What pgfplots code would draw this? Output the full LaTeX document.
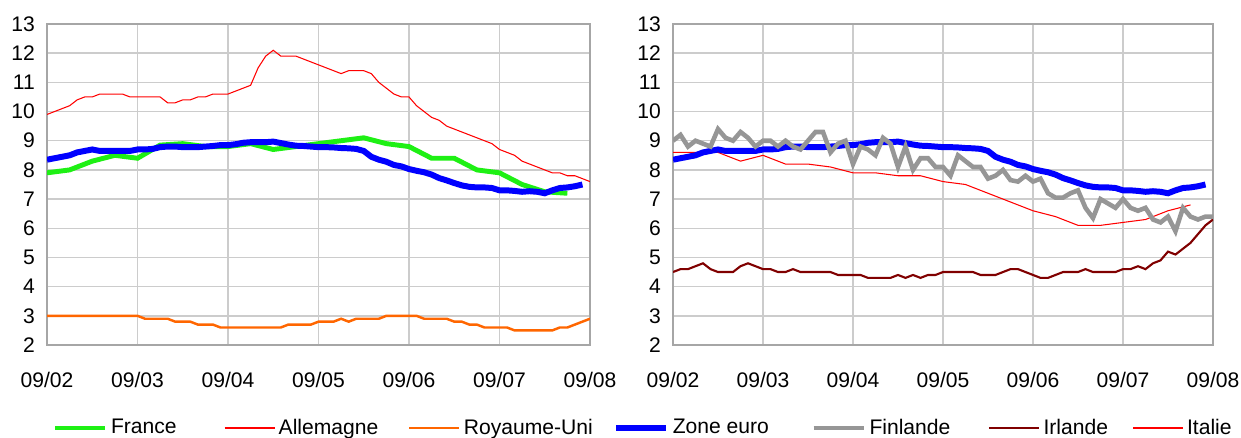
\documentclass[border=0pt]{standalone}
\usepackage{fontspec}
\setmainfont{Liberation Sans}
\usepackage{pgfplots}
\usepackage{pgfplotstable}
\pgfplotsset{compat=1.18}

\definecolor{frgreen}{RGB}{30,240,20}
\definecolor{ukorange}{RGB}{255,102,0}
\definecolor{eublue}{RGB}{0,0,255}
\definecolor{figray}{RGB}{150,150,150}
\definecolor{iedark}{RGB}{128,0,0}
\definecolor{thinred}{RGB}{255,0,0}

% zone euro, monthly, month 0 = 09/02
\pgfplotstableread{
m v
0 8.35
1 8.40
2 8.45
3 8.50
4 8.60
5 8.65
6 8.70
7 8.65
8 8.65
9 8.65
10 8.65
11 8.65
12 8.70
13 8.70
14 8.72
15 8.78
16 8.80
17 8.80
18 8.78
19 8.78
20 8.78
21 8.80
22 8.82
23 8.85
24 8.85
25 8.88
26 8.93
27 8.95
28 8.95
29 8.95
30 8.97
31 8.92
32 8.87
33 8.83
34 8.82
35 8.80
36 8.78
37 8.78
38 8.77
39 8.75
40 8.74
41 8.72
42 8.65
43 8.45
44 8.35
45 8.28
46 8.17
47 8.12
48 8.03
49 7.97
50 7.92
51 7.84
52 7.72
53 7.64
54 7.55
55 7.47
56 7.42
57 7.40
58 7.40
59 7.38
60 7.30
61 7.30
62 7.28
63 7.25
64 7.27
65 7.25
66 7.20
67 7.30
68 7.38
69 7.40
70 7.44
71 7.50
}\zoneeuro

\pgfplotsset{
  panel/.style={
    scale only axis,
    height=6.42cm,
    xmin=0, xmax=72, ymin=2, ymax=13,
    xtick={0,12,...,72},
    xticklabels={09/02,09/03,09/04,09/05,09/06,09/07,09/08},
    ytick={2,...,13},
    grid=major,
    major grid style={draw=black!20, line width=0.8pt},
    axis line style={draw=black!35, line width=1.3pt},
    major tick length=0pt,
    tick label style={font=\fontsize{12}{14}\selectfont},
    /pgf/number format/assume math mode=true,
    xticklabel style={yshift=-0.42cm},
    yticklabel style={xshift=-0.12cm},
    legend image code/.code={\draw[##1] (0cm,0cm) -- (1cm,0cm);},
  },
}

\begin{document}
\begin{tikzpicture}
\useasboundingbox (0,0) rectangle (24.82,8.74);

\begin{axis}[panel, width=10.86cm, at={(0.94cm,1.84cm)}, anchor=south west]
% Allemagne
\addplot[thinred, line width=0.6pt] coordinates {
(0,9.9)(1,10.0)(2,10.1)(3,10.2)(4,10.4)(5,10.5)(6,10.5)(7,10.6)(8,10.6)(9,10.6)(10,10.6)
(11,10.5)(12,10.5)(13,10.5)(14,10.5)(15,10.5)(16,10.3)(17,10.3)(18,10.4)(19,10.4)(20,10.5)
(21,10.5)(22,10.6)(23,10.6)(24,10.6)(25,10.7)(26,10.8)(27,10.9)(28,11.5)(29,11.9)(30,12.1)
(31,11.9)(32,11.9)(33,11.9)(34,11.8)(35,11.7)(36,11.6)(37,11.5)(38,11.4)(39,11.3)(40,11.4)
(41,11.4)(42,11.4)(43,11.3)(44,11.0)(45,10.8)(46,10.6)(47,10.5)(48,10.5)(49,10.2)(50,10.0)
(51,9.8)(52,9.7)(53,9.5)(54,9.4)(55,9.3)(56,9.2)(57,9.1)(58,9.0)(59,8.9)(60,8.7)
(61,8.6)(62,8.5)(63,8.3)(64,8.2)(65,8.1)(66,8.0)(67,7.9)(68,7.9)(69,7.8)(70,7.8)
(71,7.7)(72,7.6)};
% France
\addplot[frgreen, line width=2.8pt] coordinates {
(0,7.9)(3,8.0)(6,8.3)(9,8.5)(12,8.4)(15,8.85)(18,8.9)(21,8.8)(24,8.8)(27,8.9)
(30,8.7)(33,8.8)(36,8.9)(39,9.0)(42,9.1)(45,8.9)(48,8.8)(51,8.4)(54,8.4)(57,8.0)
(60,7.9)(63,7.5)(66,7.25)(69,7.2)};
% Royaume-Uni
\addplot[ukorange, line width=1.4pt] coordinates {
(0,3.0)(12,3.0)(13,2.9)(16,2.9)(17,2.8)(19,2.8)(20,2.7)(22,2.7)(23,2.6)(31,2.6)
(32,2.7)(35,2.7)(36,2.8)(38,2.8)(39,2.9)(40,2.8)(41,2.9)(44,2.9)(45,3.0)(49,3.0)
(50,2.9)(53,2.9)(54,2.8)(55,2.8)(56,2.7)(57,2.7)(58,2.6)(61,2.6)(62,2.5)(67,2.5)
(68,2.6)(69,2.6)(70,2.7)(71,2.8)(72,2.9)};
% Zone euro
\addplot[eublue, line width=3.4pt] table[x=m, y=v] {\zoneeuro};
\end{axis}

\begin{axis}[panel, width=10.8cm, at={(13.46cm,1.84cm)}, anchor=south west,
  legend columns=7,
  legend style={at={(-1.1593,-0.2586)}, anchor=west, draw=none, fill=none,
    font=\fontsize{12}{14}\selectfont,
    /tikz/column 2/.style={column sep=0.88cm},
    /tikz/column 4/.style={column sep=0.52cm},
    /tikz/column 6/.style={column sep=0.34cm},
    /tikz/column 8/.style={column sep=0.78cm},
    /tikz/column 10/.style={column sep=0.68cm},
    /tikz/column 12/.style={column sep=0.42cm}},
]
\addlegendimage{frgreen, line width=2.8pt}
\addlegendentry{France}
\addlegendimage{thinred, line width=0.6pt}
\addlegendentry{Allemagne}
\addlegendimage{ukorange, line width=1.4pt}
\addlegendentry{Royaume-Uni}
\addlegendimage{eublue, line width=3.4pt}
\addlegendentry{Zone euro}
% Italie
\addplot[thinred, line width=0.6pt, forget plot] coordinates {
(0,8.6)(6,8.6)(9,8.3)(12,8.5)(15,8.2)(18,8.2)(21,8.1)(24,7.9)(27,7.9)(30,7.8)
(33,7.8)(36,7.6)(39,7.5)(42,7.2)(45,6.9)(48,6.6)(51,6.4)(54,6.1)(57,6.1)(60,6.2)
(63,6.3)(66,6.6)(69,6.8)};
% Irlande
\addplot[iedark, line width=1.2pt, forget plot] coordinates {
(0,4.5)(1,4.6)(2,4.6)(3,4.7)(4,4.8)(5,4.6)(6,4.5)(8,4.5)(9,4.7)(10,4.8)
(11,4.7)(12,4.6)(13,4.6)(14,4.5)(15,4.5)(16,4.6)(17,4.5)(21,4.5)(22,4.4)(25,4.4)
(26,4.3)(29,4.3)(30,4.4)(31,4.3)(32,4.4)(33,4.3)(34,4.4)(35,4.4)(36,4.5)(40,4.5)
(41,4.4)(43,4.4)(45,4.6)(46,4.6)(48,4.4)(49,4.3)(50,4.3)(52,4.5)(54,4.5)(55,4.6)
(56,4.5)(59,4.5)(60,4.6)(61,4.6)(62,4.7)(63,4.6)(64,4.8)(65,4.9)(66,5.2)(67,5.1)
(68,5.3)(69,5.5)(70,5.8)(71,6.1)(72,6.3)};
% Zone euro
\addplot[eublue, line width=3.4pt, forget plot] table[x=m, y=v] {\zoneeuro};
% Finlande
\addplot[figray, line width=2.6pt, forget plot] coordinates {
(0,9.0)(1,9.2)(2,8.8)(3,9.0)(4,8.9)(5,8.8)(6,9.4)(7,9.1)(8,9.0)(9,9.3)
(10,9.1)(11,8.8)(12,9.0)(13,9.0)(14,8.8)(15,9.0)(16,8.8)(17,8.7)(18,9.0)(19,9.3)
(20,9.3)(21,8.6)(22,8.9)(23,9.0)(24,8.2)(25,8.8)(26,8.7)(27,8.5)(28,9.1)(29,8.9)
(30,8.1)(31,8.8)(32,8.0)(33,8.4)(34,8.4)(35,8.1)(36,8.1)(37,7.8)(38,8.5)(39,8.3)
(40,8.1)(41,8.1)(42,7.7)(43,7.8)(44,8.0)(45,7.65)(46,7.6)(47,7.8)(48,7.6)(49,7.7)
(50,7.2)(51,7.05)(52,7.05)(53,7.2)(54,7.3)(55,6.7)(56,6.35)(57,7.0)(58,6.85)(59,6.7)
(60,7.0)(61,6.7)(62,6.6)(63,6.7)(64,6.3)(65,6.2)(66,6.4)(67,5.9)(68,6.7)(69,6.4)
(70,6.3)(71,6.4)(72,6.4)};
\addlegendimage{figray, line width=2.6pt}
\addlegendentry{Finlande}
\addlegendimage{iedark, line width=1.2pt}
\addlegendentry{Irlande}
\addlegendimage{thinred, line width=0.6pt}
\addlegendentry{Italie}
\end{axis}
\end{tikzpicture}
\end{document}
